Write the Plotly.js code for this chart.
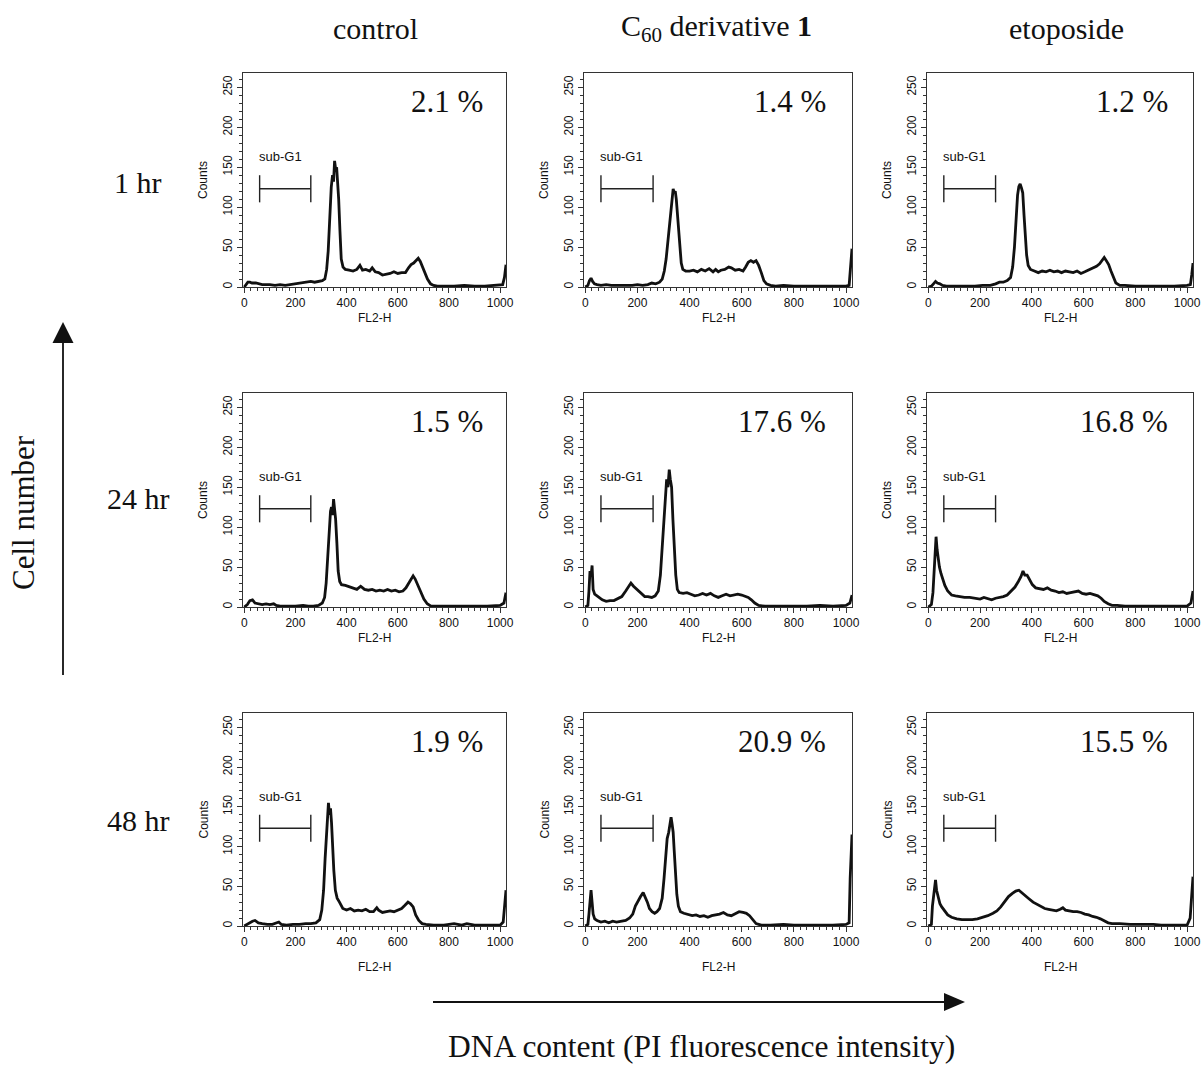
<!DOCTYPE html>
<html>
<head>
<meta charset="utf-8">
<script src="https://cdn.plot.ly/plotly-3.0.1.min.js"></script>
<style>html,body{margin:0;padding:0;background:#fff;}#chart{width:1201px;height:1065px;}</style>
</head>
<body>
<div id="chart"></div>
<script>
// ---- Data: [FL2-H channel, counts] ----
const columnTitles = ["control", "C<sub>60</sub> derivative <b>1</b>", "etoposide"];
const rowLabels = ["1 hr", "24 hr", "48 hr"];
const subG1Percent = [
  ["2.1 %", "1.4 %", "1.2 %"],
  ["1.5 %", "17.6 %", "16.8 %"],
  ["1.9 %", "20.9 %", "15.5 %"]
];
const subG1Gate = [60, 260];
const subG1GateLevel = 123;
const subG1GateCap = [106, 140];
const xTickVals = [0, 200, 400, 600, 800, 1000];
const yTickVals = [0, 50, 100, 150, 200, 250];

const control1h = [[0,0],[8,3],[14,6],[22,6],[30,5],[45,5],[60,4],[70,3],[85,3],[100,3],[120,2],[140,3],[160,2],[180,3],[200,4],[215,4],[230,5],[245,6],[260,7],[275,6],[290,7],[305,8],[315,10],[322,22],[328,45],[334,90],[340,125],[345,140],[349,132],[353,158],[357,148],[361,150],[365,135],[369,110],[374,70],[379,35],[386,25],[395,22],[410,21],[425,20],[440,22],[452,27],[462,21],[475,22],[490,20],[500,24],[512,19],[525,18],[540,15],[555,16],[570,17],[585,19],[600,17],[615,18],[630,18],[642,24],[652,28],[662,30],[672,33],[680,36],[688,32],[696,26],[706,18],[716,10],[728,4],[740,2],[755,1],[780,1],[820,1],[860,2],[900,1],[940,1],[980,2],[1010,3],[1017,12],[1023,28]];
const c60_1h = [[0,0],[10,2],[16,8],[22,11],[28,7],[35,4],[45,3],[60,2],[80,3],[100,2],[120,2],[150,2],[180,2],[200,3],[220,2],[240,3],[255,5],[270,4],[285,6],[295,10],[303,20],[310,35],[316,55],[322,75],[328,95],[333,112],[337,123],[341,118],[345,120],[349,110],[353,95],[358,75],[363,50],[368,30],[374,22],[385,20],[400,20],[415,21],[430,19],[445,22],[460,20],[475,23],[490,19],[500,22],[510,19],[520,21],[535,22],[550,25],[560,24],[575,21],[590,22],[605,20],[615,25],[625,31],[635,33],[645,31],[655,33],[665,27],[675,18],[685,8],[695,4],[710,2],[730,1],[760,2],[800,1],[850,1],[900,1],[950,1],[1000,1],[1012,2],[1017,20],[1023,48]];
const etoposide1h = [[0,0],[12,1],[20,4],[28,7],[35,5],[45,4],[55,2],[70,1],[90,1],[120,1],[150,1],[180,1],[210,2],[240,2],[260,4],[275,6],[290,6],[305,8],[318,12],[326,25],[333,50],[339,85],[345,115],[350,126],[355,129],[360,124],[365,118],[370,90],[375,60],[380,40],[386,27],[395,22],[410,20],[425,18],[440,20],[455,19],[470,21],[485,19],[500,20],[515,18],[530,20],[545,19],[560,18],[575,20],[590,17],[605,19],[620,21],[635,23],[650,26],[662,29],[672,33],[680,37],[688,33],[697,28],[706,20],[715,12],[725,5],[740,2],[760,2],[800,1],[850,1],[900,1],[950,1],[1000,2],[1013,3],[1018,15],[1023,30]];

const control24h = [[0,0],[12,3],[22,8],[32,9],[42,5],[55,4],[70,3],[85,4],[100,3],[115,4],[125,2],[140,1],[170,1],[200,1],[230,2],[250,1],[270,1],[290,2],[305,5],[314,12],[320,30],[326,60],[332,95],[337,120],[341,125],[345,115],[349,135],[353,125],[357,110],[362,80],[367,45],[373,32],[380,28],[395,27],[410,25],[425,24],[440,22],[455,26],[470,22],[485,21],[500,22],[515,20],[530,21],[545,20],[560,22],[575,20],[590,21],[605,19],[620,20],[632,24],[642,30],[652,36],[660,39],[668,35],[678,27],[690,18],[702,10],[715,4],[730,1],[760,1],[800,1],[850,1],[900,1],[950,1],[1000,2],[1015,5],[1023,18]];
const c60_24h = [[0,0],[10,2],[14,20],[18,45],[22,38],[26,52],[30,22],[36,16],[45,14],[55,11],[65,9],[80,7],[95,8],[110,8],[125,10],[140,13],[155,20],[165,25],[175,30],[185,26],[195,23],[205,21],[215,17],[228,13],[240,13],[255,12],[268,14],[280,20],[288,40],[295,75],[301,105],[307,140],[312,160],[317,150],[322,172],[326,160],[331,150],[336,110],[341,70],[347,40],[353,22],[360,18],[375,17],[390,18],[405,16],[420,14],[435,15],[450,17],[465,15],[480,17],[495,14],[510,12],[525,14],[540,16],[555,14],[570,15],[585,16],[600,15],[612,14],[625,12],[637,9],[650,5],[665,2],[690,1],[750,1],[800,1],[850,1],[900,2],[950,1],[1000,2],[1015,5],[1023,15]];
const etoposide24h = [[0,0],[12,3],[18,18],[22,40],[26,62],[30,88],[34,72],[38,60],[43,50],[49,42],[56,35],[64,27],[75,20],[90,15],[105,14],[120,13],[140,12],[160,12],[180,11],[200,10],[215,12],[230,10],[245,9],[260,11],[275,12],[290,13],[305,15],[320,20],[335,25],[348,32],[358,38],[366,45],[373,40],[382,40],[392,33],[402,28],[415,24],[430,23],[445,22],[460,24],[475,21],[490,20],[505,18],[520,19],[535,17],[550,18],[565,19],[580,20],[595,17],[610,16],[625,17],[640,15],[655,14],[668,11],[680,7],[695,4],[710,2],[730,2],[760,1],[800,1],[850,1],[900,1],[950,1],[1000,1],[1015,5],[1023,20]];

const control48h = [[0,0],[10,2],[20,4],[32,6],[42,7],[55,4],[70,3],[90,2],[110,2],[125,4],[135,5],[145,2],[165,1],[190,2],[215,2],[240,3],[260,3],[280,4],[295,8],[303,20],[310,45],[316,85],[321,110],[325,140],[329,155],[333,140],[337,148],[341,130],[345,100],[350,70],[356,45],[363,35],[372,30],[385,22],[400,20],[415,22],[430,19],[445,20],[460,19],[475,21],[490,18],[505,18],[518,23],[525,20],[540,17],[555,18],[570,19],[585,18],[600,20],[615,22],[628,26],[640,30],[650,28],[660,24],[670,14],[682,7],[695,3],[710,2],[740,1],[780,1],[820,3],[850,1],[870,3],[900,1],[950,1],[1000,1],[1012,5],[1018,25],[1023,45]];
const c60_48h = [[0,0],[10,2],[14,15],[18,35],[22,45],[26,30],[30,15],[36,9],[45,7],[60,5],[75,6],[90,4],[105,6],[120,5],[140,6],[155,7],[170,10],[182,15],[192,25],[202,32],[212,37],[222,42],[230,37],[238,30],[246,22],[256,18],[266,16],[275,18],[285,22],[295,35],[302,60],[308,90],[314,110],[320,118],[325,130],[329,137],[333,128],[337,118],[341,95],[346,65],[351,40],[357,25],[365,18],[378,16],[395,14],[410,13],[425,14],[440,12],[455,13],[470,11],[485,13],[500,14],[515,15],[530,17],[545,14],[560,13],[575,15],[590,18],[605,17],[618,16],[630,13],[642,8],[655,3],[675,1],[710,1],[760,2],[800,1],[850,1],[900,1],[950,1],[1000,2],[1012,4],[1016,60],[1020,90],[1023,115]];
const etoposide48h = [[0,0],[12,2],[16,25],[20,35],[24,50],[28,58],[32,45],[38,35],[45,28],[52,24],[62,19],[75,14],[90,11],[110,9],[130,8],[150,8],[170,8],[190,9],[210,11],[230,13],[250,16],[265,19],[280,24],[295,31],[310,37],[325,41],[338,44],[350,45],[362,42],[375,38],[390,34],[405,30],[420,27],[435,24],[450,22],[465,21],[480,20],[495,19],[510,21],[520,23],[530,20],[545,19],[560,18],[575,18],[590,17],[605,15],[620,14],[635,12],[650,11],[665,9],[680,6],[695,4],[710,3],[740,3],[780,2],[830,2],[870,2],[900,1],[950,1],[1000,1],[1012,10],[1017,35],[1023,62]];

const panels = [
  [control1h, c60_1h, etoposide1h],
  [control24h, c60_24h, etoposide24h],
  [control48h, c60_48h, etoposide48h]
];

// ---- Layout geometry (pixels) ----
const W = 1201, H = 1065;
const colPx = [[243, 506], [584, 852], [927, 1193]];
const rowPx = [[73, 287], [393, 607], [713, 926]];
const serif = "Liberation Serif, Times New Roman, serif";
const sans = "Liberation Sans, Arial, sans-serif";
const ink = "#111";
const px = v => v / W;
const py = v => 1 - v / H;

const data = [];
const layout = {
  width: W, height: H,
  margin: {l: 0, r: 0, t: 0, b: 0},
  paper_bgcolor: "#fff", plot_bgcolor: "#fff",
  showlegend: false,
  annotations: [], shapes: []
};

for (let r = 0; r < 3; r++) {
  for (let c = 0; c < 3; c++) {
    const i = r * 3 + c + 1;
    const xa = i === 1 ? "x" : "x" + i;
    const ya = i === 1 ? "y" : "y" + i;
    const xk = i === 1 ? "xaxis" : "xaxis" + i;
    const yk = i === 1 ? "yaxis" : "yaxis" + i;
    const pts = panels[r][c];
    data.push({
      type: "scatter", mode: "lines",
      x: pts.map(p => p[0]), y: pts.map(p => p[1]),
      xaxis: xa, yaxis: ya,
      line: {color: "#111", width: 2.8, shape: "linear"},
      hoverinfo: "skip"
    });
    const axCommon = {
      showline: true, linecolor: "#333", linewidth: 1, mirror: true,
      showgrid: false, zeroline: false,
      ticks: "outside", ticklen: 5, tickwidth: 1, tickcolor: "#333",
      tickfont: {family: sans, size: 12, color: ink},
      fixedrange: true
    };
    layout[xk] = Object.assign({}, axCommon, {
      domain: [colPx[c][0] / W, colPx[c][1] / W],
      anchor: ya, range: [-5, 1023],
      tickmode: "array", tickvals: xTickVals,
      minor: {ticks: "outside", dtick: 25, tick0: 0, ticklen: 3, tickcolor: "#333", showgrid: false}
    });
    layout[yk] = Object.assign({}, axCommon, {
      domain: [1 - rowPx[r][1] / H, 1 - rowPx[r][0] / H],
      anchor: xa, range: [0, 268],
      tickmode: "array", tickvals: yTickVals, tickangle: -90,
      minor: {ticks: "outside", dtick: 10, tick0: 0, ticklen: 3, tickcolor: "#333", showgrid: false}
    });
    layout.annotations.push({
      xref: xa + " domain", yref: ya + " domain", x: 0, y: 0.5,
      xshift: -40, textangle: -90, showarrow: false, text: "Counts",
      font: {family: sans, size: 12, color: ink}, xanchor: "center", yanchor: "middle"
    });
    layout.annotations.push({
      xref: xa + " domain", yref: ya + " domain", x: 0.5, y: 0,
      yshift: r === 2 ? -41 : -31, showarrow: false, text: "FL2-H",
      font: {family: sans, size: 12, color: ink}, xanchor: "center", yanchor: "middle"
    });
    layout.annotations.push({
      xref: xa + " domain", yref: ya + " domain", x: c === 0 ? 0.92 : 0.912, y: 0.866,
      showarrow: false, text: subG1Percent[r][c],
      font: {family: serif, size: 31, color: ink}, xanchor: "right", yanchor: "middle"
    });
    layout.annotations.push({
      xref: xa, yref: ya, x: 50, y: 163, showarrow: false, text: "sub-G1",
      font: {family: sans, size: 13, color: ink}, xanchor: "left", yanchor: "middle"
    });
    const gl = {color: "#222", width: 1.4};
    layout.shapes.push({type: "line", xref: xa, yref: ya, x0: subG1Gate[0], x1: subG1Gate[1], y0: subG1GateLevel, y1: subG1GateLevel, line: gl});
    layout.shapes.push({type: "line", xref: xa, yref: ya, x0: subG1Gate[0], x1: subG1Gate[0], y0: subG1GateCap[0], y1: subG1GateCap[1], line: gl});
    layout.shapes.push({type: "line", xref: xa, yref: ya, x0: subG1Gate[1], x1: subG1Gate[1], y0: subG1GateCap[0], y1: subG1GateCap[1], line: gl});
  }
}

const colCenters = [375, 716, 1066];
columnTitles.forEach((t, c) => layout.annotations.push({
  xref: "paper", yref: "paper", x: px(colCenters[c]), y: py(28),
  showarrow: false, text: t, font: {family: serif, size: 30, color: ink},
  xanchor: "center", yanchor: "middle"
}));
const rowCenters = [182, 498, 820];
rowLabels.forEach((t, r) => layout.annotations.push({
  xref: "paper", yref: "paper", x: px(138), y: py(rowCenters[r]),
  showarrow: false, text: t, font: {family: serif, size: 30, color: ink},
  xanchor: "center", yanchor: "middle"
}));
layout.annotations.push({
  xref: "paper", yref: "paper", x: px(23), y: py(513), textangle: -90,
  showarrow: false, text: "Cell number", font: {family: serif, size: 31, color: ink},
  xanchor: "center", yanchor: "middle"
});
layout.annotations.push({
  xref: "paper", yref: "paper", x: px(701), y: py(1046),
  showarrow: false, text: "DNA content (PI fluorescence intensity)", font: {family: serif, size: 31.5, color: ink},
  xanchor: "center", yanchor: "middle"
});

// arrows (decorations) as shapes
const arrowLine = {color: "#111", width: 1.8};
layout.shapes.push({type: "line", xref: "paper", yref: "paper", x0: px(63), x1: px(63), y0: py(675), y1: py(338), line: arrowLine});
layout.shapes.push({type: "path", xref: "paper", yref: "paper", fillcolor: "#111", line: {width: 0},
  path: `M ${px(63)} ${py(322)} L ${px(52.5)} ${py(343)} L ${px(73.5)} ${py(343)} Z`});
layout.shapes.push({type: "line", xref: "paper", yref: "paper", x0: px(433), x1: px(948), y0: py(1002), y1: py(1002), line: arrowLine});
layout.shapes.push({type: "path", xref: "paper", yref: "paper", fillcolor: "#111", line: {width: 0},
  path: `M ${px(965)} ${py(1002)} L ${px(944)} ${py(993)} L ${px(944)} ${py(1011)} Z`});

Plotly.newPlot("chart", data, layout, {staticPlot: true, displayModeBar: false});
</script>
</body>
</html>
